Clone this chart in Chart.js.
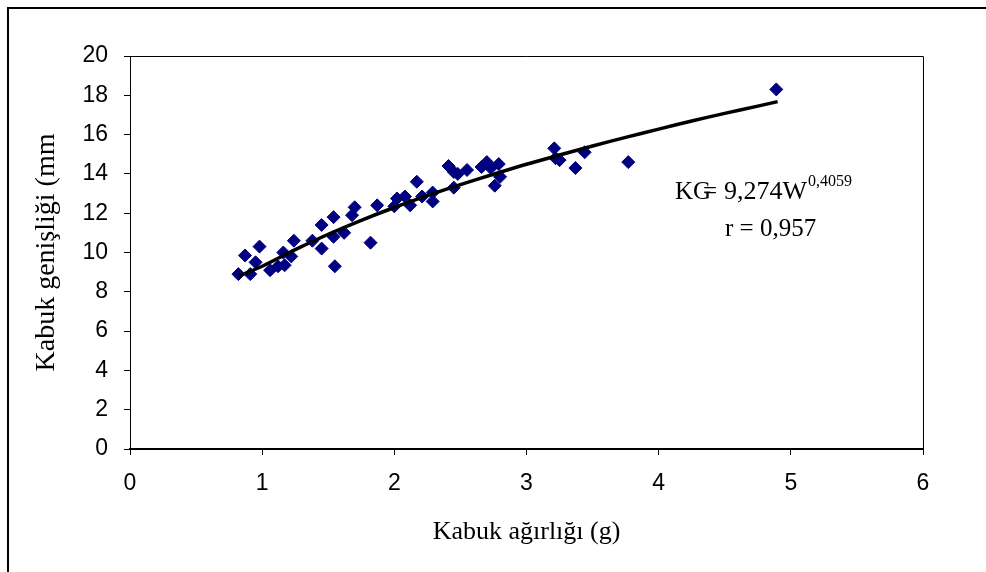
<!DOCTYPE html>
<html><head><meta charset="utf-8">
<script src="https://cdn.jsdelivr.net/npm/chart.js@4.4.0/dist/chart.umd.min.js"></script>
<style>
html,body{margin:0;padding:0;background:#fff;}
#wrap{position:relative;width:986px;height:572px;overflow:hidden;}
#frame{position:absolute;left:7px;top:7px;width:990px;height:580px;border-left:2px solid #000;border-top:2px solid #000;pointer-events:none;}
canvas{position:absolute;left:0;top:0;}
</style></head><body>
<div id="wrap"><canvas id="c" width="986" height="572"></canvas><div id="frame"></div></div>
<script>
// Observed shell weight (g) and shell width (mm)
const shellWeight = [0.82,0.87,0.91,0.95,0.98,1.06,1.12,1.16,1.17,1.22,1.24,1.38,1.45,1.45,1.54,1.54,1.55,1.62,1.68,1.70,1.82,1.87,2.00,2.02,2.08,2.12,2.17,2.21,2.29,2.29,2.41,2.45,2.48,2.45,2.55,2.66,2.70,2.73,2.79,2.80,2.76,3.21,3.22,3.25,3.37,3.44,3.77,4.89];
const shellWidth  = [8.9,9.85,8.9,9.5,10.3,9.1,9.3,10.0,9.35,9.8,10.6,10.6,10.2,11.4,11.8,10.8,9.3,11.0,11.9,12.3,10.5,12.4,12.35,12.75,12.85,12.4,13.6,12.85,13.05,12.6,14.4,14.1,14.0,13.3,14.2,14.35,14.6,14.3,14.5,13.85,13.4,15.3,14.8,14.7,14.3,15.1,14.6,18.3];
// Fitted trend curve
const fitWeight = [0.82,1.0,1.25,1.5,1.75,2.0,2.25,2.5,2.75,3.0,3.25,3.5,3.75,4.0,4.25,4.5,4.75,4.9];
const fitWidth  = [8.8,9.3,10.15,10.93,11.64,12.29,12.89,13.45,13.98,14.49,14.96,15.42,15.86,16.28,16.69,17.08,17.45,17.68];
const xTickValues = [0,1,2,3,4,5,6];
const yTickValues = [0,2,4,6,8,10,12,14,16,18,20];
const xTitle = 'Kabuk ağırlığı (g)';
const yTitle = 'Kabuk genişliği (mm';
const eqLeft = 'KG';
const eqEq = '=';
const eqRight = '9,274W';
const eqExp = '0,4059';
const eqR = 'r = 0,957';

const serif = '"Liberation Serif","Times New Roman",serif';
const sans = '"Liberation Sans",Arial,sans-serif';

const plotBox = {
  id:'plotBox',
  afterDraw(chart){
    const a = chart.chartArea, ctx = chart.ctx;
    ctx.save();
    ctx.strokeStyle = '#000';
    ctx.lineWidth = 1;
    ctx.beginPath();
    ctx.moveTo(a.left, a.top + 0.5);
    ctx.lineTo(a.right + 0.5, a.top + 0.5);
    ctx.lineTo(a.right + 0.5, a.bottom);
    ctx.stroke();
    ctx.restore();
  }
};

const annot = {
  id:'annot',
  afterDraw(chart){
    const ctx = chart.ctx;
    ctx.save();
    ctx.fillStyle = '#000';
    ctx.textBaseline = 'alphabetic';
    ctx.textAlign = 'left';
    ctx.font = '25px ' + serif;
    ctx.fillText(eqLeft, 675, 199);
    ctx.fillText(eqEq, 703, 199);
    ctx.font = '26px ' + serif;
    ctx.fillText(eqRight, 724, 199);
    const w = ctx.measureText(eqRight).width;
    ctx.font = '16px ' + serif;
    ctx.fillText(eqExp, 724 + w + 1, 186);
    ctx.font = '25px ' + serif;
    ctx.fillText(eqR, 725, 236);
    ctx.restore();
  }
};

new Chart(document.getElementById('c'), {
  type:'scatter',
  data:{
    datasets:[
      {
        label:'data',
        data: shellWeight.map((x,i)=>({x:x,y:shellWidth[i]})),
        pointStyle:'rectRot',
        pointRadius:6.5,
        backgroundColor:'#000080',
        borderColor:'#000080',
        borderWidth:1,
        order:2
      },
      {
        label:'fit',
        data: fitWeight.map((x,i)=>({x:x,y:fitWidth[i]})),
        showLine:true,
        pointRadius:0,
        borderColor:'#000',
        borderWidth:3.5,
        tension:0.3,
        fill:false,
        order:1
      }
    ]
  },
  plugins:[plotBox, annot],
  options:{
    responsive:false,
    animation:false,
    layout:{padding:{left:0,top:56,right:63,bottom:0}},
    plugins:{legend:{display:false},tooltip:{enabled:false}},
    scales:{
      x:{
        type:'linear', min:0, max:6,
        afterBuildTicks(s){ s.ticks = xTickValues.map(v=>({value:v})); },
        afterFit(s){ s.height = 123; },
        border:{display:true,color:'#000',width:2},
        grid:{display:true,drawOnChartArea:false,drawTicks:true,tickLength:6,color:'#000',tickWidth:1},
        ticks:{color:'#000',font:{family:sans,size:23},padding:15,maxRotation:0},
        title:{display:true,text:xTitle,color:'#000',font:{family:serif,size:26},padding:{top:4,bottom:24}}
      },
      y:{
        type:'linear', min:0, max:20,
        afterBuildTicks(s){ s.ticks = yTickValues.map(v=>({value:v})); },
        afterFit(s){ s.width = 130; },
        border:{display:true,color:'#000',width:1},
        grid:{display:true,drawOnChartArea:false,drawTicks:true,tickLength:6,color:'#000',tickWidth:1},
        ticks:{color:'#000',font:{family:sans,size:23},padding:16},
        title:{display:true,text:yTitle,color:'#000',font:{family:serif,size:28},padding:{top:30,bottom:0}}
      }
    }
  }
});
</script>
</body></html>
